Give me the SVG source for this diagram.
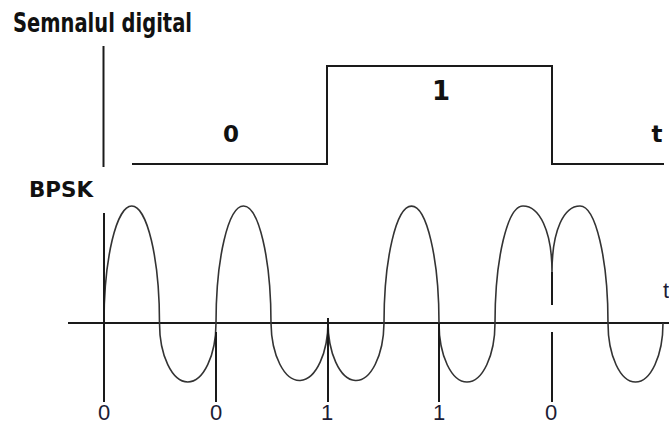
<svg xmlns="http://www.w3.org/2000/svg" width="669" height="425" viewBox="0 0 669 425">
<style>
.ln{fill:none;stroke:#1a1a1a;stroke-width:2;stroke-linecap:butt}
.wv{fill:none;stroke:#333;stroke-width:1.6}
.tb{font-family:"DejaVu Sans","Liberation Sans",sans-serif;font-weight:bold;fill:#111}
.lb{font-family:"Liberation Sans","DejaVu Sans",sans-serif;fill:#1c1c34;font-size:22px}
</style>
<rect width="669" height="425" fill="#fff"/>
<g id="titles">
<text class="tb" x="13" y="32" font-size="26" textLength="179" lengthAdjust="spacingAndGlyphs">Semnalul digital</text>
<text class="tb" x="29" y="197" font-size="21" textLength="64" lengthAdjust="spacingAndGlyphs">BPSK</text>
</g>
<g id="digital-signal">
<line class="ln" x1="103.5" y1="46" x2="103.5" y2="167"/>
<polyline class="ln" points="132,164 327,164 327,66 552,66 552,164 664,164"/>
<text class="tb" x="231" y="141.5" font-size="23" text-anchor="middle">0</text>
<text class="tb" x="441" y="100" font-size="26" text-anchor="middle">1</text>
<text class="tb" x="657" y="141.5" font-size="23" text-anchor="middle">t</text>
</g>
<g id="bpsk-signal">
<line class="ln" x1="68" y1="323" x2="669" y2="323"/>
<path class="wv" d="M104,323 A27.75,117 0 0 1 159.5,323 A28.25,59 0 0 0 216,323 A27.5,117 0 0 1 271,323 A28.5,59 0 0 0 328,320 A28,59 0 0 0 384,323 A27.5,117 0 0 1 439,323 A28,59 0 0 0 495,323 C495,258.4 507.5,206 523,206 C539,206 552,230 552,272 M552,272 C552,230 564,206 580,206 C595.5,206 608,258.4 608,323 A27.5,59 0 0 0 663,323"/>
<g id="bit-markers">
<line class="ln" x1="104" y1="213" x2="104" y2="402"/>
<line class="ln" x1="216" y1="332" x2="216" y2="402"/>
<line class="ln" x1="328" y1="318" x2="328" y2="402"/>
<line class="ln" x1="439" y1="323" x2="439" y2="402"/>
<line class="ln" x1="552" y1="272" x2="552" y2="305"/>
<line class="ln" x1="552" y1="332" x2="552" y2="402"/>
</g>
<text class="lb" x="104" y="420" text-anchor="middle">0</text>
<text class="lb" x="216" y="420" text-anchor="middle">0</text>
<text class="lb" x="327" y="420" text-anchor="middle">1</text>
<text class="lb" x="439" y="420" text-anchor="middle">1</text>
<text class="lb" x="551" y="420" text-anchor="middle">0</text>
<text class="lb" x="663" y="298" font-size="18">t</text>
</g>
</svg>
